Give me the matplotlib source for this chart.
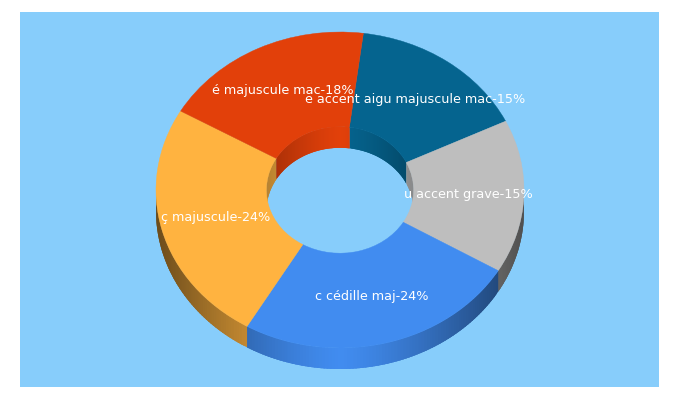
import numpy as np
import matplotlib
matplotlib.use("Agg")
import matplotlib.pyplot as plt
from matplotlib.patches import Wedge, Rectangle
from matplotlib.collections import PolyCollection
from matplotlib.colors import to_rgb
from matplotlib.transforms import Affine2D

labels = ["e accent aigu majuscule mac", "u accent grave", "c cédille maj", "ç majuscule", "é majuscule mac"]
shares = [15.8, 15.7, 24.9, 24.9, 18.7]
colors = ["#05648F", "#BEBEBE", "#418CF0", "#FFB340", "#E2400A"]
panel_color = "#87CDFB"

start = 7.3  # degrees clockwise from the top
cx, cy = 340, 190
rx, ry = 184, 158
hole = 0.4
depth = 21


def wall(a1, a2, r, color, low, front):
    # one side wall as thin quads, each runs over the next one so no seams show
    th = np.radians(np.append(np.arange(a1, a2, 1.0), a2))
    base = np.array(to_rgb(color))
    quads, cols = [], []
    for i in range(len(th) - 1):
        m = (th[i] + th[i + 1]) / 2
        if (np.cos(m) < 0) != front:
            continue
        t = np.linspace(th[i], min(th[i + 1] + np.radians(1.5), th[-1]), 4)
        x = cx + r * rx * np.sin(t)
        y = cy - r * ry * np.cos(t)
        quads.append(np.column_stack([np.r_[x, x[::-1]], np.r_[y, y[::-1] + depth]]))
        cols.append(base * (1 - (1 - low) * abs(np.sin(m)) ** 1.3))
    return PolyCollection(quads, facecolors=cols, edgecolors="none")


fig = plt.figure(figsize=(6.8, 4.0), dpi=100, facecolor="white")
ax = fig.add_axes([0, 0, 1, 1])
ax.set_xlim(0, 680)
ax.set_ylim(400, 0)
ax.axis("off")
ax.add_patch(Rectangle((20, 12), 639, 375, facecolor=panel_color, edgecolor="none"))

angles = start + np.cumsum([0] + shares) * 3.6
for i in range(len(shares)):
    ax.add_collection(wall(angles[i], angles[i + 1], 1.0, colors[i], 0.42, True))
for i in range(len(shares)):
    ax.add_collection(wall(angles[i], angles[i + 1], hole, colors[i], 0.72, False))

tr = Affine2D().scale(rx, -ry).translate(cx, cy) + ax.transData
for i in range(len(shares)):
    ax.add_patch(Wedge((0, 0), 1, 90 - angles[i + 1], 90 - angles[i], width=1 - hole,
                       facecolor=colors[i], edgecolor=colors[i], linewidth=0.3, transform=tr))

for i in range(len(shares)):
    mid = np.radians((angles[i] + angles[i + 1]) / 2)
    ax.text(cx + 0.7 * rx * np.sin(mid), cy - 0.7 * ry * np.cos(mid) - 0.5,
            f"{labels[i]}-{int(shares[i])}%", color="white", fontsize=9.15,
            ha="center", va="center", family="DejaVu Sans")

fig.savefig("out.png", dpi=100, facecolor="white")
